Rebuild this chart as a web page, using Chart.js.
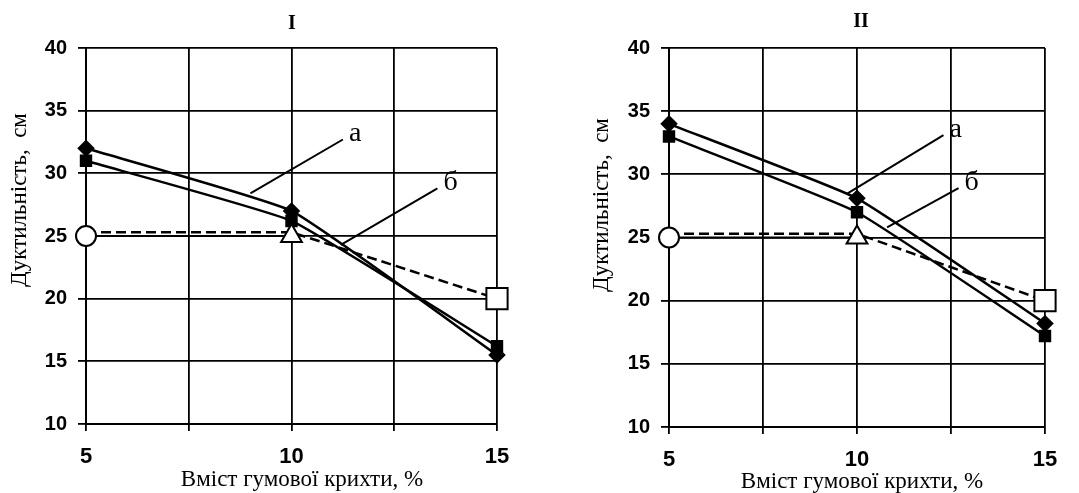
<!DOCTYPE html>
<html>
<head>
<meta charset="utf-8">
<script src="https://cdn.jsdelivr.net/npm/chart.js@4/dist/chart.umd.min.js"></script>
<style>
  body { margin: 0; background: #fff; }
  #wrap { position: relative; width: 1079px; height: 493px; }
  #boxI { position: absolute; left: 0; top: 0; }
  #boxII { position: absolute; left: 540px; top: 0; }
</style>
</head>
<body>
<div id="wrap">
  <div id="boxI"><canvas id="chartI" width="540" height="493"></canvas></div>
  <div id="boxII"><canvas id="chartII" width="539" height="493"></canvas></div>
</div>
<script>
// data
var xValues = [5, 10, 15];
var xLabels = ['5', '10', '15'];
var yTicks = [10, 15, 20, 25, 30, 35, 40];

// panel I
var I_a = [32, 27, 15.5];      // diamonds
var I_b = [31, 26.2, 16.2];    // squares
// panel II
var II_a = [34, 28.1, 18.2];
var II_b = [33, 27, 17.2];

// reference (white markers), same on both panels
var refMarks = [25, 25, 20];
var refDashed = [25.3, 25.3, 20];
var refSolid = [25, 25, null];
var refStyles = ['circle', 'triangle', 'rect'];
var refRadius = [10, 12, 15];

var yTitle = 'Дуктильність,  см';
var xTitle = 'Вміст гумової крихти, %';

function pts(arr) {
    var out = [];
    for (var i = 0; i < xValues.length; i++) {
        out.push({x: xValues[i], y: arr[i]});
    }
    return out;
}

// draws panel title, axis titles and the а / б pointers
var textPlugin = {
    id: 'textPlugin',
    afterDatasetsDraw: function(chart) {
        var o = chart.options.plugins.textPlugin;
        var ctx = chart.ctx;
        var xs = chart.scales.x, ys = chart.scales.y;
        ctx.save();
        ctx.fillStyle = '#000';
        ctx.strokeStyle = '#000';
        ctx.lineWidth = 2;
        // pointers
        o.pointers.forEach(function(p) {
            ctx.beginPath();
            ctx.moveTo(xs.getPixelForValue(p.from[0]), ys.getPixelForValue(p.from[1]));
            ctx.lineTo(xs.getPixelForValue(p.to[0]), ys.getPixelForValue(p.to[1]));
            ctx.stroke();
            ctx.font = '28px "Liberation Serif"';
            ctx.textAlign = 'left';
            ctx.textBaseline = 'middle';
            ctx.fillText(p.text, xs.getPixelForValue(p.from[0]) + 6, ys.getPixelForValue(p.from[1]) - 6);
        });
        ctx.textAlign = 'center';
        ctx.textBaseline = 'middle';
        ctx.font = 'bold 20px "Liberation Serif"';
        ctx.fillText(o.title, o.titleX, o.titleY);
        ctx.font = '23px "Liberation Serif"';
        ctx.fillText(xTitle, o.xTitleX, o.xTitleY);
        ctx.translate(o.yTitleX, o.yTitleY);
        ctx.rotate(-Math.PI / 2);
        ctx.font = '23px "Liberation Serif"';
        ctx.fillText(yTitle, 0, 0);
        ctx.restore();
    }
};

function makeChart(id, dataA, dataB, lay) {
    var ctx = document.getElementById(id).getContext('2d');
    var config = {
        type: 'line',
        data: {
            datasets: [
                {
                    label: 'ref marks',
                    data: pts(refMarks),
                    showLine: false,
                    clip: false,
                    pointStyle: refStyles,
                    pointRadius: refRadius,
                    pointBackgroundColor: '#fff',
                    pointBorderColor: '#000',
                    pointBorderWidth: 2
                },
                {
                    label: 'ref dashed',
                    data: pts(refDashed),
                    borderColor: '#000',
                    borderWidth: 2.5,
                    borderDash: [10, 5],
                    pointRadius: 0,
                    fill: false
                },
                {
                    label: 'ref solid',
                    data: pts(refSolid),
                    borderColor: '#000',
                    borderWidth: 2,
                    pointRadius: 0,
                    fill: false
                },
                {
                    label: 'a',
                    data: pts(dataA),
                    clip: false,
                    borderColor: '#000',
                    borderWidth: 2.5,
                    tension: 0.12,
                    pointStyle: 'rectRot',
                    pointRadius: 7,
                    pointBackgroundColor: '#000',
                    pointBorderColor: '#000',
                    fill: false
                },
                {
                    label: 'b',
                    data: pts(dataB),
                    clip: false,
                    borderColor: '#000',
                    borderWidth: 2.5,
                    tension: 0.12,
                    pointStyle: 'rect',
                    pointRadius: 7,
                    pointBackgroundColor: '#000',
                    pointBorderColor: '#000',
                    fill: false
                }
            ]
        },
        options: {
            responsive: false,
            animation: false,
            layout: {padding: {left: 0, right: lay.padRight, top: 48, bottom: 0}},
            plugins: {
                legend: {display: false},
                tooltip: {enabled: false},
                textPlugin: lay
            },
            scales: {
                x: {
                    type: 'linear',
                    min: 5,
                    max: 15,
                    afterBuildTicks: function(s) {
                        s.ticks = [5, 7.5, 10, 12.5, 15].map(function(v) { return {value: v}; });
                    },
                    afterFit: function(s) { s.height = lay.xHeight; },
                    ticks: {
                        color: '#000',
                        padding: 13,
                        maxRotation: 0,
                        font: {family: 'Liberation Sans', size: 22, weight: 'bold'},
                        callback: function(v) {
                            var i = xValues.indexOf(v);
                            return i >= 0 ? xLabels[i] : '';
                        }
                    },
                    grid: {color: '#000', lineWidth: 1.8, tickLength: 7},
                    border: {color: '#000', width: 2}
                },
                y: {
                    min: 10,
                    max: 40,
                    afterBuildTicks: function(s) {
                        s.ticks = yTicks.map(function(v) { return {value: v}; });
                    },
                    afterFit: function(s) { s.width = lay.yWidth; },
                    ticks: {
                        color: '#000',
                        padding: 11,
                        font: {family: 'Liberation Sans', size: 20, weight: 'bold'}
                    },
                    grid: {color: '#000', lineWidth: 1.8, tickLength: 8},
                    border: {color: '#000', width: 2}
                }
            }
        },
        plugins: [textPlugin]
    };
    return new Chart(ctx, config);
}

var chartI = makeChart('chartI', I_a, I_b, {
    padRight: 43, yWidth: 86, xHeight: 69,
    title: 'I', titleX: 292, titleY: 24,
    xTitleX: 302, xTitleY: 480,
    yTitleX: 20, yTitleY: 200,
    pointers: [
        {text: 'а', from: [11.25, 32.7], to: [9.0, 28.4]},
        {text: 'б', from: [13.55, 28.8], to: [11.2, 24.3]}
    ]
});

var chartII = makeChart('chartII', II_a, II_b, {
    padRight: 34, yWidth: 129, xHeight: 66,
    title: 'II', titleX: 321, titleY: 22,
    xTitleX: 322, xTitleY: 482,
    yTitleX: 62, yTitleY: 205,
    pointers: [
        {text: 'а', from: [12.3, 33.1], to: [9.75, 28.5]},
        {text: 'б', from: [12.7, 28.9], to: [10.8, 25.8]}
    ]
});
</script>
</body>
</html>
